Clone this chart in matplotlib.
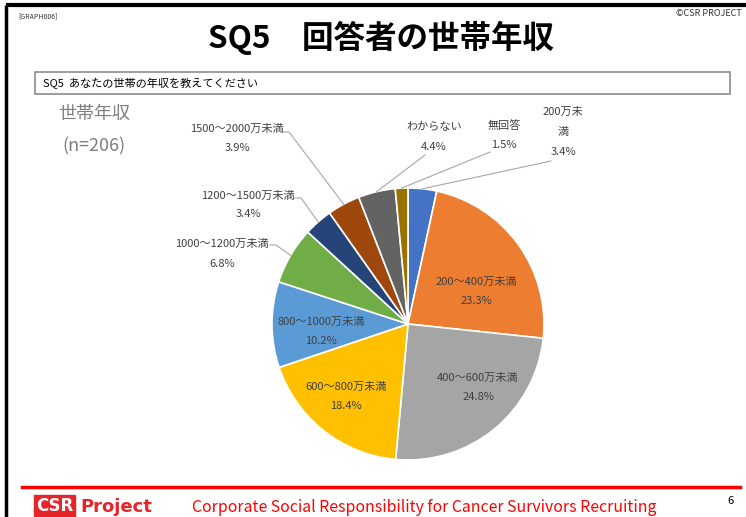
import numpy as np
import matplotlib
matplotlib.use("Agg")
import matplotlib.pyplot as plt
from matplotlib.patches import Rectangle

plt.rcParams['font.family'] = ['Noto Sans CJK JP', 'DejaVu Sans']

# data
labels = ['200万未\n満', '200～400万未満', '400～600万未満', '600～800万未満',
          '800～1000万未満', '1000～1200万未満', '1200～1500万未満',
          '1500～2000万未満', 'わからない', '無回答']
values = [3.4, 23.3, 24.8, 18.4, 10.2, 6.8, 3.4, 3.9, 4.4, 1.5]
colors = ['#4472C4', '#ED7D31', '#A5A5A5', '#FFC000', '#5B9BD5',
          '#70AD47', '#264478', '#9E480E', '#636363', '#997300']

W, H = 746, 517


def Y(py):
    return H - py


fig = plt.figure(figsize=(W / 100, H / 100), dpi=100)
ax = fig.add_axes([0, 0, 1, 1])

cx, cy, r = 408, Y(324), 136
wedges, _ = ax.pie(values, colors=colors, startangle=90, counterclock=False,
                   center=(cx, cy), radius=r,
                   wedgeprops=dict(edgecolor='white', linewidth=1.2))
ax.set_xlim(0, W)
ax.set_ylim(0, H)
ax.set_aspect('equal')
ax.axis('off')

txt = '#404040'
fs = 8

# inside labels: (label index, x, y of first line)
inside = {1: (476, 282), 2: (478, 378), 3: (346, 387), 4: (321, 322)}
for i, (x, y) in inside.items():
    ax.text(x, Y(y), labels[i], ha='center', va='center', fontsize=fs, color=txt)
    ax.text(x, Y(y + 19), f'{values[i]}%', ha='center', va='center',
            fontsize=fs, color=txt)


def edge_point(i, frac=0.5):
    w = wedges[i]
    a = np.deg2rad(w.theta1 + (w.theta2 - w.theta1) * frac)
    return cx + r * np.cos(a), cy + r * np.sin(a)


# outside labels: index -> (text x, text y first line, pct y, leader start)
lc = '#A6A6A6'
outside = {
    0: (563, 122, 152, (551, 161)),
    9: (504, 126, 145, (490, 152)),
    8: (434, 127, 147, (425, 155)),
    7: (237, 129, 148, (287, 132)),
    6: (248, 196, 214, (299, 198)),
    5: (222, 244, 264, (274, 245)),
}
for i, (x, y, yp, st) in outside.items():
    ax.text(x, Y(y), labels[i], ha='center', va='center', fontsize=fs,
            color=txt, linespacing=2.2)
    ax.text(x, Y(yp), f'{values[i]}%', ha='center', va='center',
            fontsize=fs, color=txt)
    ex, ey = edge_point(i)
    sx, sy = st[0], Y(st[1])
    if i in (5, 6, 7):
        ax.plot([sx - 4, sx + 2, ex], [sy, sy, ey], color=lc, lw=0.8)
    else:
        ax.plot([sx, ex], [sy, ey], color=lc, lw=0.8)

# frame lines
ax.plot([6, W], [Y(5), Y(5)], color='black', lw=3, solid_capstyle='butt')
ax.plot([6, 6], [Y(5), 0], color='black', lw=2.5, solid_capstyle='butt')
ax.plot([22, 740], [Y(487), Y(487)], color='#FF0000', lw=2.5)

# header texts
ax.text(18, Y(16), '[GRAPH006]', fontsize=5, color='#333333', va='center')
ax.text(742, Y(14), '©CSR PROJECT', fontsize=6.5, color='#333333',
        va='center', ha='right')
ax.text(381, Y(38), 'SQ5　回答者の世帯年収', fontsize=22.7, fontweight='bold',
        ha='center', va='center', color='black')

# question box
ax.add_patch(Rectangle((35, Y(94)), 695, 22, facecolor='white',
                       edgecolor='#8C8C8C', lw=1.2))
ax.text(43, Y(83), 'SQ5  あなたの世帯の年収を教えてください', fontsize=8,
        va='center', ha='left', color='black')

ax.text(94, Y(114), '世帯年収', fontsize=13, color='#7F7F7F',
        ha='center', va='center')
ax.text(94, Y(146), '(n=206)', fontsize=13, color='#7F7F7F',
        ha='center', va='center')

# footer
ax.text(36, Y(506), 'CSR', fontsize=12, fontweight='bold', color='white',
        va='center', ha='left', family='DejaVu Sans',
        bbox=dict(boxstyle='square,pad=0.1', fc='#E8242A', ec='#E8242A'))
ax.text(80, Y(507), 'Project', fontsize=13, fontweight='bold',
        color='#E8242A', va='center', ha='left', family='DejaVu Sans')
ax.text(424, Y(508), 'Corporate Social Responsibility for Cancer Survivors Recruiting',
        fontsize=11.4, color='#FF0000', ha='center', va='center')
ax.text(731, Y(501), '6', fontsize=8, color='black', ha='center', va='center')

fig.savefig('out.png', dpi=100)
